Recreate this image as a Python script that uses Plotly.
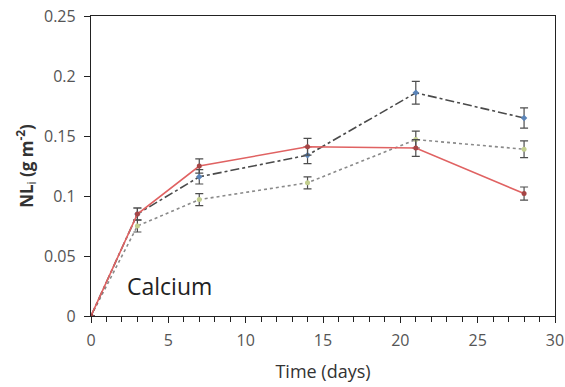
import plotly.graph_objects as go

days = [0, 3, 7, 14, 21, 28]

red_vals = [0, 0.085, 0.125, 0.141, 0.140, 0.102]
red_err = [0, 0.005, 0.006, 0.007, 0.007, 0.0055]

blue_vals = [0, 0.085, 0.116, 0.134, 0.186, 0.165]
blue_err = [0, 0.005, 0.006, 0.007, 0.0095, 0.0085]

green_vals = [0, 0.075, 0.097, 0.111, 0.147, 0.139]
green_err = [0, 0.005, 0.005, 0.005, 0.007, 0.007]

x_ticks = [0, 5, 10, 15, 20, 25, 30]
y_ticks = [0, 0.05, 0.1, 0.15, 0.2, 0.25]
y_tick_text = ["0", "0.05", "0.1", "0.15", "0.2", "0.25"]

FONT = "Open Sans, Lato, sans-serif"
ERR_COLOR = "#4d4d4d"

fig = go.Figure()

series = [
    (green_vals, green_err, "#8a8a8a", "dot", "#c3cf8e", "circle"),
    (blue_vals, blue_err, "#4a4a4a", "dashdot", "#5b84b8", "diamond"),
    (red_vals, red_err, "#e06262", "solid", "#a64545", "circle"),
]
for vals, err, lcol, dash, mcol, sym in series:
    fig.add_trace(go.Scatter(
        x=days, y=vals, mode="lines+markers",
        line=dict(color=lcol, width=1.6, dash=dash),
        marker=dict(color=mcol, size=5, symbol=sym),
        error_y=dict(type="data", array=err, visible=True,
                     color=ERR_COLOR, thickness=1.2, width=4),
        showlegend=False,
    ))

fig.add_annotation(
    x=2.2, y=0.025, xref="x", yref="y", text="Calcium",
    showarrow=False, xanchor="left", yanchor="middle",
    font=dict(family=FONT, size=23, color="#222222"),
)

fig.update_layout(
    width=565, height=387,
    margin=dict(l=91, r=10, t=16, b=71),
    plot_bgcolor="white", paper_bgcolor="white",
    font=dict(family=FONT, color="#555555", size=16),
)
fig.update_xaxes(
    range=[0, 30], tickvals=x_ticks, ticks="outside", ticklen=6,
    tickcolor="#222222", showline=True, linecolor="#222222", linewidth=1.3,
    mirror=True, showgrid=False, zeroline=False, automargin=False,
    minor=dict(dtick=1, ticks="outside", ticklen=5, tickcolor="#222222"),
    ticklabelstandoff=4,
    title=dict(text="Time (days)", font=dict(family=FONT, size=18, color="#333333"),
               standoff=15),
    tickfont=dict(size=16, color="#555555"),
)
fig.update_yaxes(
    range=[0, 0.25], tickvals=y_ticks, ticktext=y_tick_text,
    ticks="outside", ticklen=6, tickcolor="#222222",
    showline=True, linecolor="#222222", linewidth=1.3, mirror=True,
    showgrid=False, zeroline=False, ticklabelstandoff=5, automargin=False,
    title=dict(text="<b>NL</b><sub>i</sub> <b>(g m<sup>-2</sup>)</b>",
               font=dict(family=FONT, size=17, color="#333333"), standoff=6),
    tickfont=dict(size=16, color="#555555"),
)

fig.write_html("out.html")
